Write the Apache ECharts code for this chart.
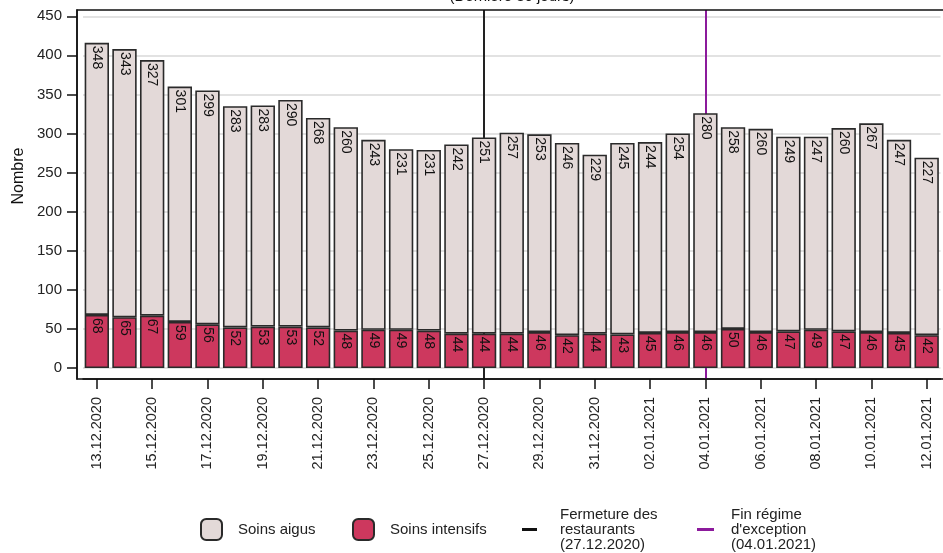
<!DOCTYPE html>
<html>
<head>
<meta charset="utf-8">
<script src="https://cdn.jsdelivr.net/npm/echarts@6/dist/echarts.min.js"></script>
<style>
  html, body { margin: 0; padding: 0; background: #fff; }
  #main { width: 943px; height: 553px; }
</style>
</head>
<body>
<div id="main"></div>
<script>
// jours affichés
var dates = ['13.12.2020','14.12.2020','15.12.2020','16.12.2020','17.12.2020','18.12.2020','19.12.2020','20.12.2020',
  '21.12.2020','22.12.2020','23.12.2020','24.12.2020','25.12.2020','26.12.2020','27.12.2020','28.12.2020',
  '29.12.2020','30.12.2020','31.12.2020','01.01.2021','02.01.2021','03.01.2021','04.01.2021','05.01.2021',
  '06.01.2021','07.01.2021','08.01.2021','09.01.2021','10.01.2021','11.01.2021','12.01.2021'];
var soinsIntensifs = [68,65,67,59,56,52,53,53,52,48,49,49,48,44,44,44,46,42,44,43,45,46,46,50,46,47,49,47,46,45,42];
var soinsAigus = [348,343,327,301,299,283,283,290,268,260,243,231,231,242,251,257,253,246,229,245,244,254,280,258,260,249,247,260,267,247,227];
var yTicks = [0,50,100,150,200,250,300,350,400,450];
var fermeture = '27.12.2020';
var finRegime = '04.01.2021';

var nomAigus = 'Soins aigus';
var nomIntensifs = 'Soins intensifs';
var nomFermeture = 'Fermeture des\nrestaurants\n(27.12.2020)';
var nomFin = "Fin régime\nd'exception\n(04.01.2021)";

var font = "'Liberation Sans', Arial, sans-serif";

var myChart = echarts.init(document.getElementById('main'));

var barLabel = {
	show: true,
	position: 'insideTop',
	rotate: -90,
	align: 'left',
	verticalAlign: 'middle',
	distance: 3,
	fontSize: 14,
	fontFamily: font,
	color: '#111'
};

function legendBox(item, left, top, w, h, pad){
	return {
		data: [item],
		left: left,
		top: top,
		padding: 0,
		itemWidth: w,
		itemHeight: h,
		selectedMode: false,
		textStyle: {
			fontSize: 15,
			lineHeight: 15,
			fontFamily: font,
			color: '#222',
			padding: [0, 0, 0, pad]
		}
	};
}

var option = {
	animation: false,
	grid: {
		left: 83,
		right: 2.5,
		top: 10,
		bottom: 174
	},
	legend: [
		legendBox(nomAigus, 200, 518, 21, 21, 11),
		legendBox(nomIntensifs, 352, 518, 21, 21, 11),
		legendBox({ name: nomFermeture, icon: 'rect' }, 522, 507, 15, 3, 18),
		legendBox({ name: nomFin, icon: 'rect' }, 697, 507, 17, 3, 12)
	],
	graphic: [
		{
			type: 'rect',
			shape: { x: 77, y: 10, width: 900, height: 369 },
			style: { fill: 'none', stroke: '#111', lineWidth: 1.5 },
			silent: true,
			z: 10
		},
		{
			type: 'text',
			x: 19, y: 176,
			rotation: Math.PI / 2,
			style: {
				text: 'Nombre',
				fontSize: 16,
				fontFamily: font,
				fill: '#111',
				align: 'center',
				verticalAlign: 'middle'
			}
		},
		{
			type: 'text',
			x: 512, y: 4.5,
			style: {
				text: '(Dernière 30 jours)',
				fontSize: 15,
				fontFamily: font,
				fill: '#111',
				align: 'center',
				verticalAlign: 'bottom'
			}
		}
	],
	xAxis: {
		type: 'category',
		data: dates,
		axisLine: { show: true, onZero: false, lineStyle: { color: '#111', width: 1.5 } },
		axisTick: {
			show: true,
			interval: 1,
			alignWithLabel: true,
			length: 10,
			lineStyle: { color: '#111', width: 1.5 }
		},
		axisLabel: {
			interval: 1,
			rotate: 90,
			margin: 18,
			fontSize: 14.5,
			fontFamily: font,
			color: '#222'
		},
		splitLine: { show: false }
	},
	yAxis: {
		type: 'value',
		min: -14,
		max: 458,
		offset: 6,
		axisLine: { show: true, lineStyle: { color: '#111', width: 1.5 } },
		axisTick: {
			show: true,
			length: 10,
			customValues: yTicks,
			lineStyle: { color: '#111', width: 1.5 }
		},
		axisLabel: {
			customValues: yTicks,
			margin: 15,
			fontSize: 15,
			fontFamily: font,
			color: '#222'
		},
		splitLine: {
			show: true,
			lineStyle: { color: '#e2e2e2', width: 2 }
		}
	},
	series: [
		{
			name: nomIntensifs,
			type: 'bar',
			stack: 'total',
			barWidth: '88%',
			z: 3,
			data: soinsIntensifs,
			itemStyle: { color: '#cd385e', borderColor: '#2a2a2a', borderWidth: 1.6 },
			label: barLabel
		},
		{
			name: nomAigus,
			type: 'bar',
			stack: 'total',
			barWidth: '88%',
			z: 3,
			data: soinsAigus,
			itemStyle: { color: '#e3d9d8', borderColor: '#2a2a2a', borderWidth: 1.6 },
			label: barLabel
		},
		{
			name: nomFermeture,
			type: 'line',
			z: 1,
			data: [],
			symbol: 'none',
			lineStyle: { color: '#111', width: 2.5 },
			itemStyle: { color: '#111' },
			markLine: {
				silent: true,
				z: 1,
				symbol: ['none', 'none'],
				label: { show: false },
				lineStyle: { color: '#222', width: 2, type: 'solid' },
				data: [{ xAxis: fermeture }]
			}
		},
		{
			name: nomFin,
			type: 'line',
			z: 1,
			data: [],
			symbol: 'none',
			lineStyle: { color: '#8c1a9c', width: 2.5 },
			itemStyle: { color: '#8c1a9c' },
			markLine: {
				silent: true,
				z: 1,
				symbol: ['none', 'none'],
				label: { show: false },
				lineStyle: { color: '#8c1a9c', width: 2, type: 'solid' },
				data: [{ xAxis: finRegime }]
			}
		}
	]
};
myChart.setOption(option);
</script>
</body>
</html>
